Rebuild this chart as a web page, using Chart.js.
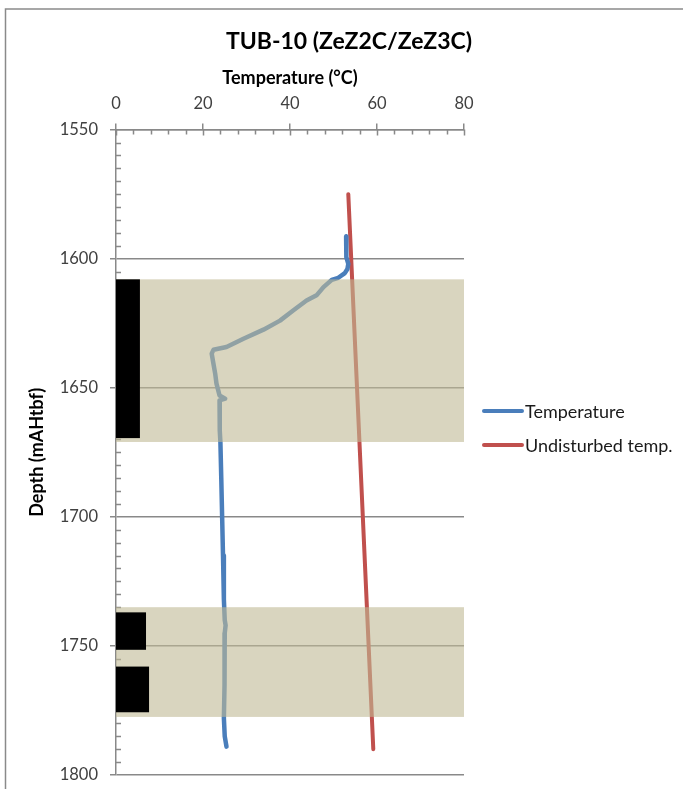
<!DOCTYPE html>
<html>
<head>
<meta charset="utf-8">
<script src="https://cdn.jsdelivr.net/npm/chart.js@4/dist/chart.umd.min.js"></script>
<style>
html,body{margin:0;padding:0;background:#fff;}
#wrap{position:relative;width:683px;height:789px;}
</style>
</head>
<body>
<div id="wrap"><canvas id="c" width="683" height="789"></canvas></div>
<script>
// ---- Data ----
const chartTitle = 'TUB-10 (ZeZ2C/ZeZ3C)';
const xTitle = 'Temperature (°C)';
const yTitle = 'Depth (mAHtbf)';
const seriesNames = ['Temperature', 'Undisturbed temp.'];

const tempDepth = [1591.4, 1595, 1599.4, 1602, 1604, 1605.6, 1607.4, 1608.2, 1611, 1614.2, 1616.2, 1620, 1624, 1627.5, 1631, 1634.2, 1635.3, 1636.8, 1640.7, 1644.5, 1648.4, 1651, 1653, 1654.2, 1654.9, 1660, 1666.5, 1671, 1685, 1700, 1715, 1732, 1740, 1742, 1745, 1750, 1765, 1778, 1785, 1789];
const tempValue = [52.9, 52.9, 53.0, 53.4, 53.2, 52.6, 51.1, 49.6, 47.7, 46.1, 43.8, 40.8, 37.7, 33.9, 29.3, 25.4, 22.4, 22.0, 22.4, 22.8, 23.1, 23.5, 23.8, 25.1, 23.8, 23.8, 23.9, 24.0, 24.2, 24.4, 24.6, 24.8, 25.0, 25.2, 25.0, 25.0, 24.9, 24.8, 25.0, 25.4];

const undistDepth = [1575, 1790];
const undistValue = [53.4, 59.15];

// shaded intervals (depth)
const bandTop = [1608, 1735];
const bandBottom = [1671, 1777.5];
// black bars at the left (depth range and temperature-axis width)
const barTop = [1608, 1737, 1758];
const barBottom = [1669.5, 1751.5, 1775.7];
const barWidth = [5.5, 6.9, 7.6];

const xMin = 0, xMax = 80, xStep = 20, xMinorStep = 4;
const yMin = 1550, yMax = 1800, yStep = 50, yMinorStep = 5;

// ---- Build ----
const toPts = (xs, ys) => xs.map((v, i) => ({x: v, y: ys[i]}));

const FONT = 'Lato, "Liberation Sans", sans-serif';
const AXIS = '#898989';

const framePlugin = {
  id: 'frame',
  beforeDraw(chart) {
    const ctx = chart.ctx;
    ctx.save();
    ctx.fillStyle = '#fff';
    ctx.fillRect(0, 0, chart.width, chart.height);
    ctx.strokeStyle = '#8a8a8a';
    ctx.lineWidth = 1.5;
    ctx.beginPath();
    ctx.moveTo(5.5, chart.height);
    ctx.lineTo(5.5, 9);
    ctx.lineTo(chart.width, 9);
    ctx.stroke();
    ctx.restore();
  }
};

const minorTicksPlugin = {
  id: 'minorTicks',
  beforeDatasetsDraw(chart) {
    const ctx = chart.ctx, xs = chart.scales.x, ys = chart.scales.y, a = chart.chartArea;
    ctx.save();
    ctx.strokeStyle = AXIS;
    ctx.lineWidth = 1.5;
    ctx.beginPath();
    for (let d = yMin + yMinorStep; d < yMax; d += yMinorStep) {
      if (d % yStep === 0) continue;
      const py = Math.round(ys.getPixelForValue(d)) + 0.5;
      ctx.moveTo(a.left, py); ctx.lineTo(a.left + 5, py);
    }
    for (let t = xMin; t <= xMax; t += xMinorStep) {
      const px = Math.round(xs.getPixelForValue(t)) + 0.5;
      ctx.moveTo(px, a.top); ctx.lineTo(px, a.top + (t % xStep === 0 ? 6 : 5));
    }
    ctx.stroke();
    ctx.restore();
  }
};

const bandsPlugin = {
  id: 'bands',
  afterDatasetsDraw(chart) {
    const ctx = chart.ctx, xs = chart.scales.x, ys = chart.scales.y;
    ctx.save();
    ctx.fillStyle = 'rgba(192,185,148,0.6)';
    bandTop.forEach((t, i) => {
      const y1 = ys.getPixelForValue(t), y2 = ys.getPixelForValue(bandBottom[i]);
      const x1 = xs.getPixelForValue(xMin), x2 = xs.getPixelForValue(xMax);
      ctx.fillRect(x1, y1, x2 - x1, y2 - y1);
    });
    ctx.fillStyle = '#000';
    barTop.forEach((t, i) => {
      const y1 = ys.getPixelForValue(t), y2 = ys.getPixelForValue(barBottom[i]);
      const x1 = xs.getPixelForValue(xMin), x2 = xs.getPixelForValue(barWidth[i]);
      ctx.fillRect(x1, y1, x2 - x1, y2 - y1);
    });
    ctx.restore();
  }
};

const legendPlugin = {
  id: 'customLegend',
  afterDraw(chart) {
    const ctx = chart.ctx, a = chart.chartArea;
    const x0 = a.right + 20, yc = 428, gap = 34;
    ctx.save();
    ctx.font = '18px ' + FONT;
    ctx.textBaseline = 'middle';
    ctx.textAlign = 'left';
    chart.data.datasets.forEach((ds, i) => {
      const y = yc + (i - 0.5) * gap;
      ctx.strokeStyle = ds.borderColor;
      ctx.lineWidth = 4;
      ctx.lineCap = 'round';
      ctx.beginPath();
      ctx.moveTo(x0, y); ctx.lineTo(x0 + 38, y);
      ctx.stroke();
      ctx.fillStyle = '#1a1a1a';
      ctx.fillText(ds.label, x0 + 41, y + 1);
    });
    ctx.restore();
  }
};

new Chart(document.getElementById('c'), {
  type: 'scatter',
  data: {
    datasets: [
      {
        label: seriesNames[0],
        data: toPts(tempValue, tempDepth),
        showLine: true,
        borderColor: '#4a7ebb',
        backgroundColor: '#4a7ebb',
        borderWidth: 4.5,
        pointRadius: 0,
        borderCapStyle: 'round',
        borderJoinStyle: 'round',
        tension: 0
      },
      {
        label: seriesNames[1],
        data: toPts(undistValue, undistDepth),
        showLine: true,
        borderColor: '#c0504d',
        backgroundColor: '#c0504d',
        borderWidth: 4,
        pointRadius: 0,
        borderCapStyle: 'round',
        tension: 0
      }
    ]
  },
  options: {
    responsive: false,
    animation: false,
    devicePixelRatio: 1,
    layout: {padding: {left: 15, right: 0, top: 0, bottom: 14}},
    plugins: {
      legend: {display: false},
      tooltip: {enabled: false},
      title: {
        display: true,
        text: chartTitle,
        color: '#000',
        font: {family: FONT, size: 23, weight: 'bold'},
        padding: {top: 28, bottom: 10}
      }
    },
    scales: {
      x: {
        type: 'linear',
        position: 'top',
        min: xMin, max: xMax,
        ticks: {stepSize: xStep, color: '#404040', font: {family: FONT, size: 16.5}, padding: 10, maxRotation: 0},
        grid: {drawOnChartArea: false, drawTicks: true, tickLength: 6, color: AXIS, lineWidth: 1.5},
        border: {display: true, color: AXIS, width: 1.5},
        title: {display: true, text: xTitle, color: '#000', font: {family: FONT, size: 18, weight: 'bold'}, padding: {top: 2, bottom: 0}},
        afterFit: s => { s.height = 64; }
      },
      y: {
        type: 'linear',
        position: 'left',
        reverse: true,
        min: yMin, max: yMax,
        ticks: {stepSize: yStep, color: '#404040', font: {family: FONT, size: 16.5}, padding: 12,
                callback: v => String(v)},
        grid: {drawOnChartArea: true, drawTicks: true, tickLength: 6, color: AXIS, lineWidth: 1.5},
        border: {display: true, color: AXIS, width: 1.5},
        title: {display: true, text: yTitle, color: '#000', font: {family: FONT, size: 18, weight: 'bold'}, padding: {top: 11, bottom: 0}},
        afterFit: s => { s.width = 101; s.paddingTop = 0; s.paddingBottom = 0; }
      },
      yr: {
        type: 'linear',
        position: 'right',
        display: true,
        min: yMin, max: yMax,
        ticks: {display: false},
        grid: {display: false, drawTicks: false},
        border: {display: false},
        afterFit: s => { s.width = 219; s.paddingTop = 0; s.paddingBottom = 0; }
      }
    }
  },
  plugins: [framePlugin, minorTicksPlugin, bandsPlugin, legendPlugin]
});
</script>
</body>
</html>
